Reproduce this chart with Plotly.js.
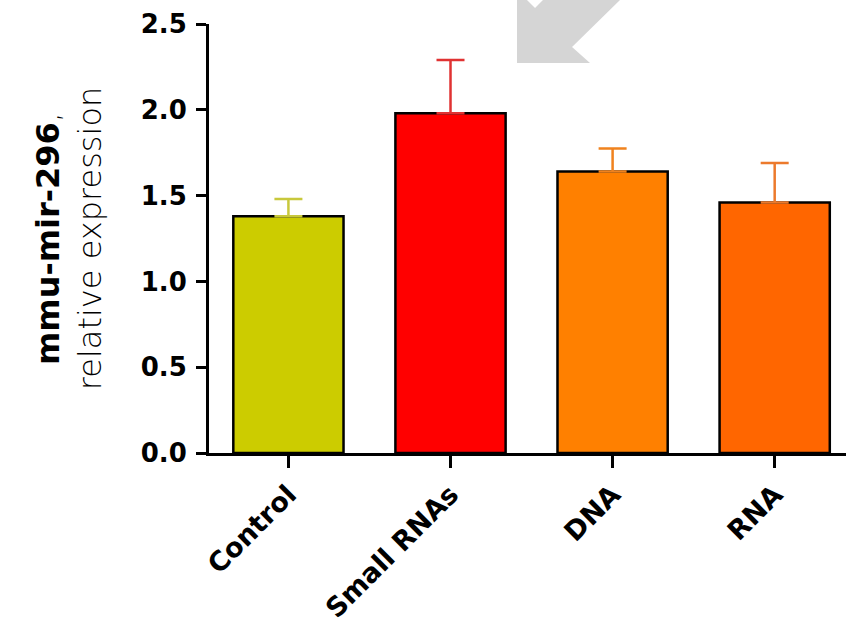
<!DOCTYPE html>
<html>
<head>
<meta charset="utf-8">
<script src="https://cdn.plot.ly/plotly-3.0.1.min.js"></script>
<style>html,body{margin:0;padding:0;background:#fff;}#chart{width:846px;height:625px;}</style>
</head>
<body>
<div id="chart"></div>
<script>
const categories = ["Control", "Small RNAs", "DNA", "RNA"];
const values = [1.38, 1.98, 1.64, 1.46];
const errorsUp = [0.10, 0.31, 0.135, 0.23];
const barColors = ["#cccc00", "#ff0000", "#ff8000", "#ff6600"];
const errorColors = ["#c8c83c", "#e03232", "#f0821e", "#ec7a2c"];
const yTickVals = [0, 0.5, 1.0, 1.5, 2.0, 2.5];

const traces = categories.map((c, i) => ({
  type: "bar",
  x: [c],
  y: [values[i]],
  width: 0.68,
  marker: { color: barColors[i], line: { color: "#000", width: 2.5 } },
  error_y: {
    type: "data", symmetric: false,
    array: [errorsUp[i]], arrayminus: [0],
    color: errorColors[i], thickness: 2.5, width: 14
  },
  showlegend: false,
  hoverinfo: "x+y"
}));

// decorative grey arrow (paper coordinates computed from pixel positions)
const L = 209, T = 24, W = 637, H = 429;
const px = x => ((x - L) / W).toFixed(4);
const py = y => ((T + H - y) / H).toFixed(4);
const arrowPts = [[517,0],[527,0],[535,8],[543,0],[620,0],[572,47],[590,63],[517,63]];
const arrowPath = "M" + arrowPts.map(p => px(p[0]) + "," + py(p[1])).join(" L") + " Z";

const layout = {
  width: 846, height: 625,
  margin: { l: L, r: 0, t: T, b: 625 - T - H },
  paper_bgcolor: "#fff", plot_bgcolor: "#fff",
  barmode: "overlay",
  font: { family: "DejaVu Sans, sans-serif", color: "#000" },
  xaxis: {
    type: "category",
    categoryorder: "array", categoryarray: categories,
    range: [-0.49, 3.44],
    showline: true, linecolor: "#000", linewidth: 3,
    ticks: "outside", ticklen: 12, tickwidth: 3, tickcolor: "#000",
    tickangle: -45,
    tickfont: { family: "DejaVu Sans, sans-serif", size: 27, weight: "bold", color: "#000" },
    showgrid: false, zeroline: false, fixedrange: true
  },
  yaxis: {
    range: [0, 2.5],
    tickvals: yTickVals, tickformat: ".1f",
    showline: true, linecolor: "#000", linewidth: 3,
    ticks: "outside", ticklen: 10, tickwidth: 3, tickcolor: "#000",
    ticklabelstandoff: 4,
    tickfont: { family: "DejaVu Sans, sans-serif", size: 26, weight: "bold", color: "#000" },
    showgrid: false, zeroline: false, fixedrange: true,
    title: {
      text: "<b>mmu-mir-296</b>,<br>relative expression",
      font: { family: "DejaVu Sans, sans-serif", size: 32, weight: 200, color: "#000" },
      standoff: 30
    }
  },
  shapes: [{
    type: "path", xref: "paper", yref: "paper",
    path: arrowPath,
    fillcolor: "#d5d5d5", line: { width: 0 }, layer: "above"
  }]
};

Plotly.newPlot("chart", traces, layout, { displayModeBar: false, staticPlot: true });
</script>
</body>
</html>
